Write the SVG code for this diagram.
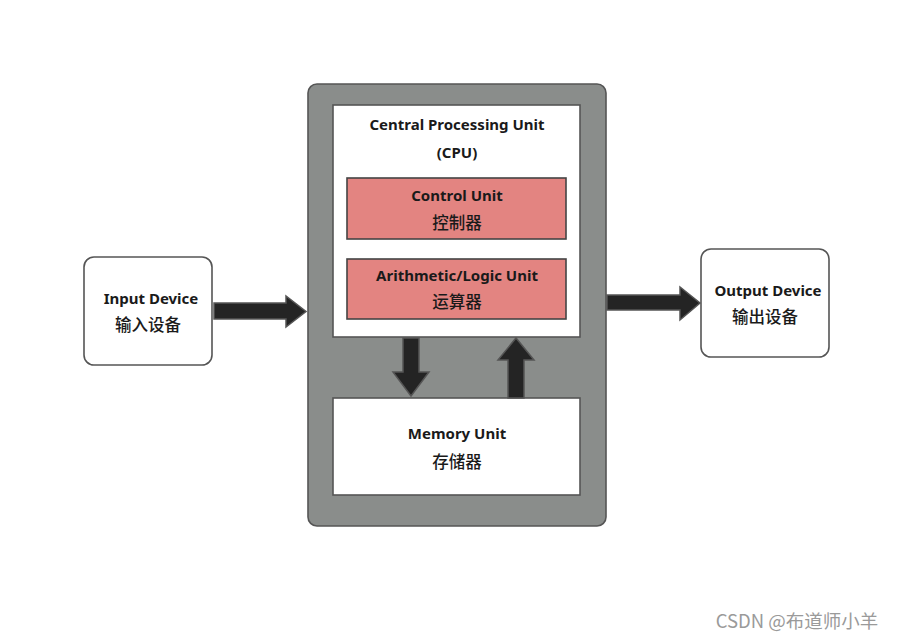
<svg xmlns="http://www.w3.org/2000/svg" width="898" height="641" viewBox="0 0 898 641">
<style>
.en{font-family:"Noto Sans","Liberation Sans",sans-serif;font-weight:bold;font-size:15px;fill:#1a1a1a;text-anchor:middle}
.zh{font-family:"Noto Sans CJK SC",sans-serif;font-weight:500;font-size:16.5px;fill:#1a1a1a;text-anchor:middle}
.box{fill:#fff;stroke:#555;stroke-width:1.6}
.red{fill:#e38481;stroke:#444;stroke-width:1.6}
.arr{fill:#242424;stroke:#555;stroke-width:1.5;stroke-linejoin:miter}
</style>
<rect width="898" height="641" fill="#fff"/>
<g id="cpu-frame"><rect x="308" y="84" width="298" height="442" rx="9" fill="#8a8d8b" stroke="#555" stroke-width="1.6"/></g>
<g id="cpu"><rect class="box" x="333" y="105" width="247" height="232"/>
<text class="en" x="457" y="130">Central Processing Unit</text>
<text class="en" x="457" y="158">(CPU)</text></g>
<g id="control-unit"><rect class="red" x="347" y="178" width="219" height="61"/>
<text class="en" x="457" y="201">Control Unit</text>
<text class="zh" x="457" y="229">控制器</text></g>
<g id="alu"><rect class="red" x="347" y="259" width="219" height="60"/>
<text class="en" x="457" y="281">Arithmetic/Logic Unit</text>
<text class="zh" x="457" y="308">运算器</text></g>
<g id="memory"><rect class="box" x="333" y="398" width="247" height="97"/>
<text class="en" x="457" y="439">Memory Unit</text>
<text class="zh" x="457" y="468">存储器</text></g>
<g id="input"><rect class="box" x="84" y="257" width="128" height="108" rx="10"/>
<text class="en" x="151" y="304">Input Device</text>
<text class="zh" x="148" y="331">输入设备</text></g>
<g id="output"><rect class="box" x="701" y="249" width="128" height="108" rx="10"/>
<text class="en" x="768" y="296">Output Device</text>
<text class="zh" x="765" y="323">输出设备</text></g>
<g id="connectors">
<polygon class="arr" points="214,303 286,303 286,296 306,311.5 286,327 286,319 214,319"/>
<polygon class="arr" points="607,295 680,295 680,287 700,303 680,320 680,310 607,310"/>
<polygon class="arr" points="403,338 419,338 419,372 429,372 411,396 393,372 403,372"/>
<polygon class="arr" points="508,398 524,398 524,360 534,360 516,338 498,360 508,360"/>
</g>
<text x="797" y="628" style="font-family:'Noto Sans CJK SC',sans-serif;font-size:18.5px;fill:#9a9a9a;text-anchor:middle">CSDN @布道师小羊</text>
</svg>
